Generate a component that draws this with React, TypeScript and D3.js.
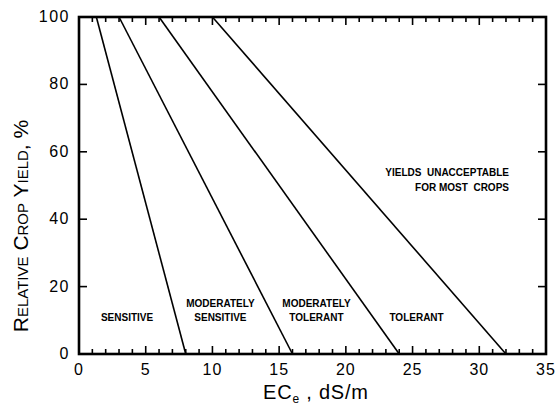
import { useEffect, useRef } from "react";
import * as d3 from "d3";

const WIDTH = 557;
const HEIGHT = 409;
const margin = { top: 17, right: 11, bottom: 55, left: 79 };

// salinity thresholds: EC where yield starts to drop (100%) and where it hits 0%
const thresholdEC = [1.3, 3, 6, 10];
const zeroYieldEC = [8, 16, 24, 32];

const classNames = [["SENSITIVE"], ["MODERATELY", "SENSITIVE"], ["MODERATELY", "TOLERANT"], ["TOLERANT"]];
const classX = [3.6, 10.6, 17.8, 25.3];

const xMajorTicks = [0, 5, 10, 15, 20, 25, 30, 35];
const xMinorTicks = d3.range(0, 36, 1);
const yTicks = [0, 20, 40, 60, 80, 100];

const FONT = "'Liberation Sans', Arial, sans-serif";

export default function App() {
  const svgRef = useRef<SVGSVGElement>(null);

  useEffect(() => {
    const svg = d3.select(svgRef.current);
    svg.selectAll("*").remove();

    const x = d3.scaleLinear().domain([0, 35]).range([margin.left, WIDTH - margin.right]);
    const y = d3.scaleLinear().domain([0, 100]).range([HEIGHT - margin.bottom, margin.top]);

    const g = svg.append("g");

    // tick marks, inward on all sides
    const tickG = g.append("g").attr("stroke", "#000").attr("stroke-width", 1.6);
    xMinorTicks.forEach((v) => {
      const len = v % 5 === 0 ? 8 : 5;
      tickG.append("line").attr("x1", x(v)).attr("x2", x(v)).attr("y1", y(0)).attr("y2", y(0) - len);
      tickG.append("line").attr("x1", x(v)).attr("x2", x(v)).attr("y1", y(100)).attr("y2", y(100) + len);
    });
    yTicks.forEach((v) => {
      tickG.append("line").attr("x1", x(0)).attr("x2", x(0) + 8).attr("y1", y(v)).attr("y2", y(v));
      tickG.append("line").attr("x1", x(35)).attr("x2", x(35) - 8).attr("y1", y(v)).attr("y2", y(v));
    });

    // frame
    g.append("rect")
      .attr("x", x(0))
      .attr("y", y(100))
      .attr("width", x(35) - x(0))
      .attr("height", y(0) - y(100))
      .attr("fill", "none")
      .attr("stroke", "#000")
      .attr("stroke-width", 2.6);

    // class boundary lines
    const line = d3
      .line<[number, number]>()
      .x((d) => x(d[0]))
      .y((d) => y(d[1]));
    thresholdEC.forEach((t, i) => {
      g.append("path")
        .attr("d", line([[t, 100], [zeroYieldEC[i], 0]]))
        .attr("fill", "none")
        .attr("stroke", "#000")
        .attr("stroke-width", 1.6);
    });

    // tick labels
    g.append("g")
      .selectAll("text")
      .data(xMajorTicks)
      .join("text")
      .attr("x", (d) => x(d))
      .attr("y", y(0) + 21)
      .attr("text-anchor", "middle")
      .attr("font-family", FONT)
      .attr("font-size", 16)
      .attr("letter-spacing", 1)
      .text((d) => d);

    g.append("g")
      .selectAll("text")
      .data(yTicks)
      .join("text")
      .attr("x", x(0) - 9)
      .attr("y", (d) => y(d) + 5)
      .attr("text-anchor", "end")
      .attr("font-family", FONT)
      .attr("font-size", 16)
      .attr("letter-spacing", 1.5)
      .text((d) => d);

    // class labels
    classNames.forEach((lines, i) => {
      const t = g
        .append("text")
        .attr("text-anchor", "middle")
        .attr("font-family", FONT)
        .attr("font-weight", "bold")
        .attr("font-size", 10);
      lines.forEach((s, j) => {
        t.append("tspan")
          .attr("x", x(classX[i]))
          .attr("y", y(0) - 33 + (j + 1 - lines.length) * 14)
          .text(s);
      });
    });

    const un = g
      .append("text")
      .attr("text-anchor", "end")
      .attr("font-family", FONT)
      .attr("font-weight", "bold")
      .attr("font-size", 10)
      .style("white-space", "pre");
    un.append("tspan").attr("x", 509).attr("y", 176).text("YIELDS  UNACCEPTABLE");
    un.append("tspan").attr("x", 509).attr("y", 191).text("FOR MOST  CROPS");

    // x axis title
    const xt = g
      .append("text")
      .attr("x", 263)
      .attr("y", 399)
      .attr("font-family", FONT)
      .attr("font-size", 20)
      .attr("letter-spacing", 0.8);
    xt.append("tspan").text("EC");
    xt.append("tspan").attr("font-size", 12).attr("dy", 4).text("e");
    xt.append("tspan").attr("dy", -4).style("white-space", "pre").text(" , dS/m");

    // y axis title in small caps
    g.append("text")
      .attr("transform", `translate(28,${226}) rotate(-90)`)
      .attr("text-anchor", "middle")
      .attr("font-family", FONT)
      .attr("font-size", 21)
      .style("font-variant", "small-caps")
      .text("Relative Crop Yield, %");
  }, []);

  return (
    <svg
      ref={svgRef}
      width={WIDTH}
      height={HEIGHT}
      style={{ position: "absolute", left: 0, top: 0, background: "#fff" }}
    />
  );
}
